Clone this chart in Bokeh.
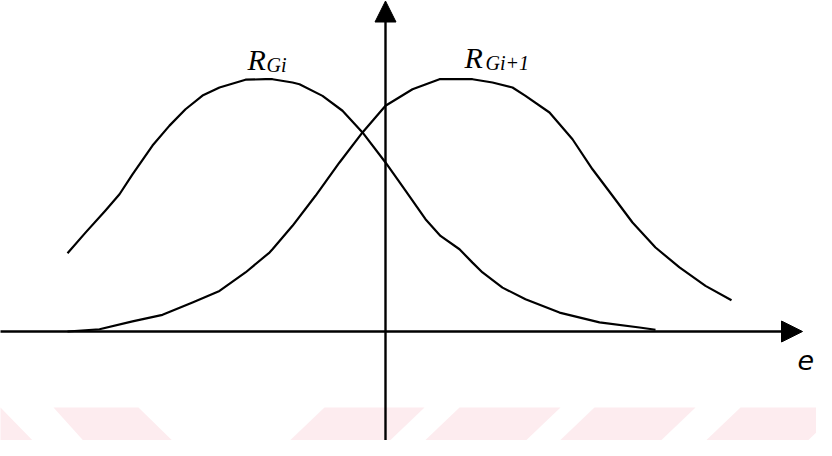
from bokeh.plotting import figure
from bokeh.models import Range1d, Arrow, NormalHead, ColumnDataSource
from bokeh.core.properties import value
from bokeh.embed import file_html
from bokeh.resources import INLINE

# ---- data (e axis units, membership 0..1) ----
rgi_e = [-1.59, -1.50, -1.40, -1.33, -1.265, -1.165, -1.08, -1.00, -0.915, -0.83,
         -0.70, -0.60, -0.565, -0.465, -0.43, -0.315, -0.215, -0.115, 0.0, 0.10,
         0.20, 0.275, 0.37, 0.435, 0.485, 0.585, 0.70, 0.87, 1.07, 1.27, 1.35]
rgi_mu = [0.310, 0.392, 0.480, 0.544, 0.623, 0.737, 0.816, 0.881, 0.935, 0.967,
          0.998, 1.0, 1.0, 0.987, 0.980, 0.934, 0.875, 0.789, 0.670, 0.558,
          0.445, 0.379, 0.326, 0.273, 0.234, 0.174, 0.128, 0.075, 0.036, 0.016, 0.007]

rgi1_e = [-1.59, -1.43, -1.265, -1.115, -0.965, -0.83, -0.70, -0.58, -0.565, -0.465,
          -0.35, -0.23, -0.115, 0.0, 0.135, 0.27, 0.435, 0.535, 0.635, 0.70,
          0.82, 0.935, 1.035, 1.135, 1.235, 1.35, 1.47, 1.60, 1.73]
rgi1_mu = [0.0, 0.009, 0.040, 0.066, 0.115, 0.161, 0.234, 0.313, 0.326, 0.419,
           0.538, 0.670, 0.789, 0.895, 0.960, 1.0, 1.0, 0.987, 0.967, 0.934,
           0.868, 0.762, 0.643, 0.538, 0.432, 0.333, 0.254, 0.181, 0.124]

label_main = ["R", "R"]
label_sub = ["Gi", "Gi+1"]
axis_label = "e"

# faint watermark stripes seen at the bottom of the picture
wm_xs = [[-1.965, -1.925, -1.725, -1.965],
         [-1.66, -1.235, -1.025, -1.475],
         [-0.305, 0.195, -0.02, -0.52],
         [0.37, 0.875, 0.66, 0.155],
         [1.045, 1.55, 1.335, 0.83],
         [1.775, 2.285, 2.07, 1.56]]
wm_ys = [[-0.301, -0.301, -0.464, -0.464]] * 6

p = figure(width=816, height=440, output_backend="svg", toolbar_location=None,
           x_range=Range1d(-1.925, 2.155), y_range=Range1d(-0.432, 1.312),
           min_border=0, outline_line_color=None)
p.xaxis.visible = False
p.yaxis.visible = False
p.grid.visible = False
p.background_fill_color = "white"
p.border_fill_color = "white"

p.patches(wm_xs, wm_ys, fill_color="#fdecef", line_color=None)

head_size = 21
p.add_layout(Arrow(end=NormalHead(size=head_size, fill_color="black", line_color="black"),
                   x_start=-1.96, y_start=0.0, x_end=2.085, y_end=0.0,
                   line_width=2.6, line_color="black"))
p.add_layout(Arrow(end=NormalHead(size=head_size, fill_color="black", line_color="black"),
                   x_start=0.0, y_start=-0.47, x_end=0.0, y_end=1.31,
                   line_width=2.4, line_color="black"))

p.line(rgi_e, rgi_mu, line_color="black", line_width=2.2, line_join="round")
p.line(rgi1_e, rgi1_mu, line_color="black", line_width=2.2, line_join="round")

main_src = ColumnDataSource(dict(x=[-0.69, 0.395], y=[1.078, 1.086], t=label_main))
sub_src = ColumnDataSource(dict(x=[-0.595, 0.50], y=[1.058, 1.066], t=label_sub))
p.text("x", "y", text="t", source=main_src, text_font=value("Liberation Serif"),
       text_font_style="italic", text_font_size="30px", text_color="black",
       text_baseline="alphabetic", text_align="left")
p.text("x", "y", text="t", source=sub_src, text_font=value("Liberation Serif"),
       text_font_style="italic", text_font_size="20px", text_color="black",
       text_baseline="alphabetic", text_align="left")
p.text([2.06], [-0.111], text=[axis_label], text_font=value("DejaVu Sans"),
       text_font_style="italic", text_font_size="27px", text_color="black",
       text_baseline="alphabetic", text_align="left")

open("out.html", "w").write(file_html(p, INLINE))
